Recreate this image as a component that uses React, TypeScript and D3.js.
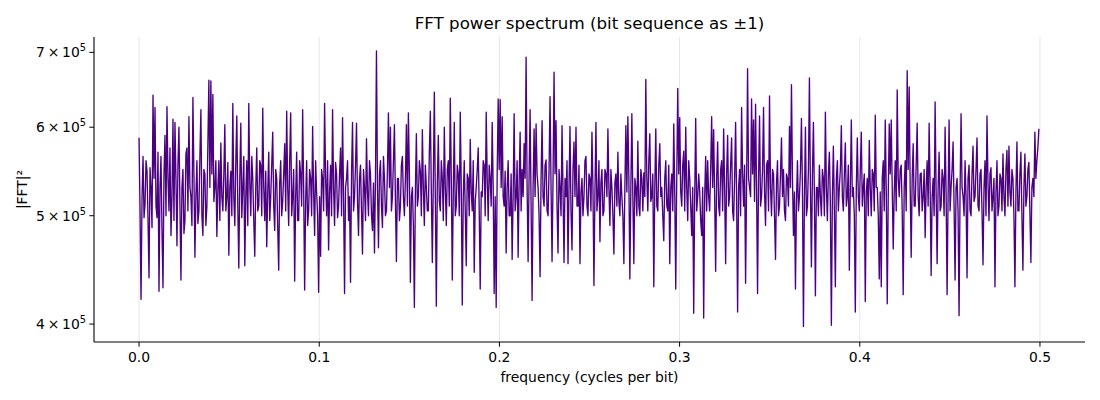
import React from "react";
import * as d3 from "d3";

// FFT power spectrum values (|FFT|^2), evenly spaced bins from 0 to FREQ_MAX
const FREQ_MAX = 0.4994;
const POWER: number[] = [
  587e3,505e3,421e3,520e3,565e3,498e3,512e3,560e3,548e3,495e3,440e3,552e3,530e3,488e3,641e3,540e3,625e3,510e3,498e3,570e3,
  428e3,530e3,565e3,485e3,431e3,545e3,590e3,500e3,626e3,540e3,505e3,575e3,480e3,520e3,610e3,495e3,606e3,540e3,470e3,555e3,
  600e3,510e3,438e3,530e3,550e3,482e3,495e3,568e3,575e3,505e3,613e3,530e3,520e3,490e3,638e3,545e3,459e3,520e3,560e3,492e3,
  505e3,565e3,622e3,500e3,480e3,550e3,545e3,490e3,510e3,580e3,661e3,530e3,660e3,545e3,642e3,515e3,530e3,560e3,479e3,528e3,
  560e3,495e3,581e3,520e3,505e3,545e3,603e3,505e3,520e3,558e3,461e3,530e3,548e3,500e3,630e3,520e3,490e3,560e3,614e3,510e3,
  449e3,540e3,605e3,498e3,530e3,565e3,451e3,520e3,560e3,490e3,630e3,535e3,500e3,565e3,540e3,495e3,460e3,530e3,575e3,505e3,
  510e3,560e3,555e3,500e3,624e3,530e3,495e3,548e3,469e3,525e3,570e3,495e3,520e3,555e3,594e3,510e3,485e3,550e3,540e3,488e3,
  447e3,535e3,560e3,500e3,515e3,545e3,580e3,505e3,620e3,530e3,490e3,560e3,618e3,500e3,520e3,550e3,437e3,520e3,570e3,495e3,
  495e3,560e3,545e3,510e3,622e3,530e3,429e3,515e3,560e3,490e3,505e3,550e3,540e3,500e3,601e3,525e3,480e3,560e3,525e3,500e3,
  427e3,520e3,460e3,550e3,540e3,505e3,630e3,540e3,500e3,560e3,466e3,525e3,555e3,500e3,622e3,530e3,490e3,558e3,545e3,498e3,
  510e3,545e3,575e3,500e3,612e3,520e3,426e3,530e3,540e3,560e3,495e3,520e3,436e3,545e3,606e3,505e3,520e3,555e3,605e3,515e3,
  480e3,540e3,555e3,505e3,462e3,550e3,530e3,495e3,586e3,525e3,500e3,560e3,545e3,500e3,485e3,535e3,463e3,540e3,702e3,530e3,
  468e3,545e3,560e3,510e3,488e3,565e3,540e3,500e3,505e3,550e3,618e3,530e3,600e3,505e3,520e3,560e3,603e3,515e3,455e3,540e3,
  540e3,495e3,510e3,555e3,565e3,520e3,500e3,540e3,603e3,510e3,618e3,545e3,436e3,520e3,530e3,490e3,414e3,525e3,592e3,510e3,
  520e3,560e3,548e3,500e3,597e3,530e3,490e3,555e3,530e3,505e3,505e3,570e3,620e3,525e3,454e3,540e3,645e3,520e3,415e3,535e3,
  590e3,515e3,505e3,560e3,540e3,495e3,600e3,530e3,490e3,550e3,560e3,510e3,637e3,540e3,438e3,525e3,606e3,500e3,510e3,555e3,
  545e3,500e3,619e3,530e3,416e3,520e3,560e3,505e3,451e3,545e3,540e3,500e3,585e3,525e3,505e3,560e3,445e3,515e3,530e3,550e3,
  575e3,505e3,430e3,525e3,520e3,560e3,555e3,500e3,619e3,540e3,495e3,555e3,540e3,510e3,606e3,530e3,426e3,520e3,414e3,545e3,
  636e3,550e3,635e3,530e3,613e3,520e3,510e3,548e3,463e3,530e3,560e3,500e3,500e3,545e3,457e3,520e3,617e3,505e3,520e3,560e3,
  459e3,535e3,594e3,505e3,550e3,520e3,580e3,540e3,693e3,530e3,455e3,545e3,622e3,510e3,420e3,530e3,598e3,520e3,604e3,545e3,
  530e3,500e3,441e3,540e3,608e3,520e3,510e3,555e3,561e3,505e3,500e3,550e3,639e3,530e3,455e3,540e3,672e3,545e3,608e3,510e3,
  463e3,550e3,530e3,500e3,602e3,525e3,454e3,540e3,520e3,560e3,453e3,530e3,601e3,505e3,466e3,550e3,582e3,520e3,600e3,510e3,
  510e3,555e3,453e3,525e3,540e3,500e3,520e3,560e3,565e3,510e3,500e3,545e3,540e3,505e3,594e3,530e3,433e3,525e3,606e3,505e3,
  520e3,560e3,474e3,535e3,550e3,500e3,505e3,550e3,545e3,520e3,598e3,530e3,490e3,550e3,530e3,500e3,462e3,535e3,545e3,510e3,
  570e3,515e3,500e3,545e3,520e3,500e3,453e3,530e3,602e3,525e3,613e3,540e3,439e3,530e3,617e3,520e3,453e3,540e3,530e3,500e3,
  583e3,510e3,500e3,550e3,540e3,505e3,546e3,520e3,662e3,540e3,505e3,560e3,592e3,515e3,520e3,545e3,432e3,530e3,598e3,510e3,
  505e3,555e3,580e3,520e3,530e3,500e3,475e3,540e3,560e3,510e3,505e3,555e3,453e3,530e3,545e3,505e3,604e3,525e3,430e3,540e3,
  650e3,545e3,612e3,525e3,510e3,555e3,571e3,505e3,600e3,530e3,495e3,560e3,540e3,510e3,480e3,530e3,409e3,520e3,611e3,505e3,
  520e3,545e3,526e3,495e3,480e3,530e3,405e3,520e3,565e3,505e3,560e3,520e3,505e3,550e3,613e3,530e3,597e3,520e3,446e3,540e3,
  582e3,510e3,500e3,550e3,560e3,505e3,598e3,530e3,453e3,545e3,590e3,510e3,520e3,555e3,587e3,505e3,495e3,540e3,606e3,520e3,
  410e3,530e3,550e3,500e3,625e3,545e3,510e3,555e3,435e3,530e3,677e3,540e3,530e3,520e3,636e3,545e3,609e3,515e3,629e3,530e3,
  426e3,540e3,614e3,510e3,520e3,550e3,625e3,525e3,490e3,555e3,560e3,505e3,640e3,530e3,500e3,550e3,545e3,500e3,457e3,535e3,
  560e3,500e3,510e3,545e3,587e3,520e3,550e3,505e3,495e3,545e3,540e3,510e3,601e3,530e3,655e3,540e3,480e3,525e3,430e3,515e3,
  560e3,505e3,520e3,550e3,611e3,530e3,398e3,520e3,600e3,500e3,510e3,550e3,664e3,530e3,450e3,545e3,606e3,520e3,424e3,530e3,
  530e3,500e3,555e3,520e3,500e3,550e3,540e3,500e3,619e3,530e3,495e3,545e3,570e3,510e3,399e3,520e3,577e3,505e3,432e3,540e3,
  560e3,505e3,530e3,550e3,602e3,520e3,505e3,545e3,581e3,510e3,520e3,555e3,447e3,530e3,609e3,520e3,530e3,500e3,410e3,530e3,
  587e3,520e3,505e3,550e3,594e3,510e3,530e3,545e3,419e3,525e3,540e3,500e3,584e3,530e3,500e3,550e3,545e3,505e3,615e3,530e3,
  530e3,500e3,439e3,525e3,432e3,540e3,560e3,505e3,609e3,530e3,417e3,520e3,604e3,545e3,609e3,530e3,467e3,525e3,560e3,505e3,
  648e3,540e3,520e3,550e3,555e3,505e3,425e3,530e3,560e3,505e3,674e3,550e3,652e3,530e3,459e3,540e3,580e3,510e3,510e3,555e3,
  605e3,520e3,500e3,545e3,546e3,505e3,520e3,550e3,478e3,530e3,560e3,510e3,605e3,530e3,442e3,520e3,540e3,500e3,632e3,525e3,
  453e3,530e3,570e3,505e3,510e3,550e3,540e3,500e3,600e3,525e3,425e3,520e3,609e3,505e3,530e3,550e3,582e3,510e3,438e3,530e3,
  540e3,505e3,407e3,525e3,617e3,530e3,520e3,500e3,560e3,520e3,440e3,540e3,555e3,505e3,500e3,545e3,577e3,515e3,520e3,550e3,
  587e3,510e3,505e3,545e3,550e3,505e3,452e3,530e3,560e3,500e3,614e3,535e3,495e3,545e3,552e3,505e3,520e3,540e3,432e3,525e3,
  560e3,500e3,510e3,545e3,540e3,505e3,568e3,520e3,500e3,550e3,572e3,510e3,577e3,525e3,510e3,550e3,540e3,500e3,432e3,525e3,
  582e3,505e3,505e3,545e3,570e3,500e3,447e3,530e3,568e3,510e3,520e3,550e3,558e3,505e3,454e3,530e3,540e3,520e3,594e3,540e3,
  560e3,575e3,598e3,
];

const X_TICKS = [0.0, 0.1, 0.2, 0.3, 0.4, 0.5];
const Y_TICKS = [4e5, 5e5, 6e5, 7e5];
const Y_TICK_MANTISSA = ["4", "5", "6", "7"];

const TITLE = "FFT power spectrum (bit sequence as ±1)";
const X_LABEL = "frequency (cycles per bit)";
const Y_LABEL = "|FFT|²";

const W = 1100;
const H = 400;
const M = { left: 94, right: 1085, top: 37, bottom: 342 };
const FONT = "'DejaVu Sans', sans-serif";
const LINE_COLOR = "#4b0082";

export default function App() {
  const n = POWER.length;
  const data = POWER.map((v, i) => ({ f: (i * FREQ_MAX) / (n - 1), v }));

  const x = d3.scaleLinear().domain([-0.025, 0.525]).range([M.left, M.right]);
  const y = d3.scaleLog().domain([385500, 722500]).range([M.bottom, M.top]);

  const line = d3
    .line<{ f: number; v: number }>()
    .x((d) => x(d.f))
    .y((d) => y(d.v));

  return (
    <svg
      width={W}
      height={H}
      style={{ position: "absolute", left: 0, top: 0, background: "#fff" }}
      fontFamily={FONT}
    >
      <rect x={0} y={0} width={W} height={H} fill="#fff" />
      {X_TICKS.map((t) => (
        <line
          key={"g" + t}
          x1={x(t)}
          x2={x(t)}
          y1={M.top}
          y2={M.bottom}
          stroke="#e6e6e6"
          strokeWidth={1}
        />
      ))}
      <path d={line(data) || ""} fill="none" stroke={LINE_COLOR} strokeWidth={1.35} strokeLinejoin="round" />
      <line x1={M.left} x2={M.left} y1={M.top} y2={M.bottom} stroke="#000" strokeWidth={1.1} />
      <line x1={M.left} x2={M.right} y1={M.bottom} y2={M.bottom} stroke="#000" strokeWidth={1.1} />
      {X_TICKS.map((t) => (
        <g key={"xt" + t} transform={`translate(${x(t)},${M.bottom})`}>
          <line y1={0} y2={4.7} stroke="#000" strokeWidth={1} />
          <text y={20} textAnchor="middle" fontSize={13.9} fill="#000">
            {t.toFixed(1)}
          </text>
        </g>
      ))}
      {Y_TICKS.map((t, i) => (
        <g key={"yt" + t} transform={`translate(${M.left},${y(t)})`}>
          <line x1={0} x2={-4.7} stroke="#000" strokeWidth={1} />
          <text x={-8} dy="0.35em" textAnchor="end" fontSize={13.9} fill="#000">
            {Y_TICK_MANTISSA[i]}
            {"\u2009×\u200910"}
            <tspan fontSize={9.8} dy={-6}>5</tspan>
          </text>
        </g>
      ))}
      <text x={(M.left + M.right) / 2} y={29} textAnchor="middle" fontSize={16.67} fill="#000">
        {TITLE}
      </text>
      <text x={(M.left + M.right) / 2} y={382} textAnchor="middle" fontSize={13.9} fill="#000">
        {X_LABEL}
      </text>
      <text
        transform={`translate(27,${(M.top + M.bottom) / 2}) rotate(-90)`}
        textAnchor="middle"
        fontSize={13.9}
        fill="#000"
      >
        {Y_LABEL}
      </text>
    </svg>
  );
}
